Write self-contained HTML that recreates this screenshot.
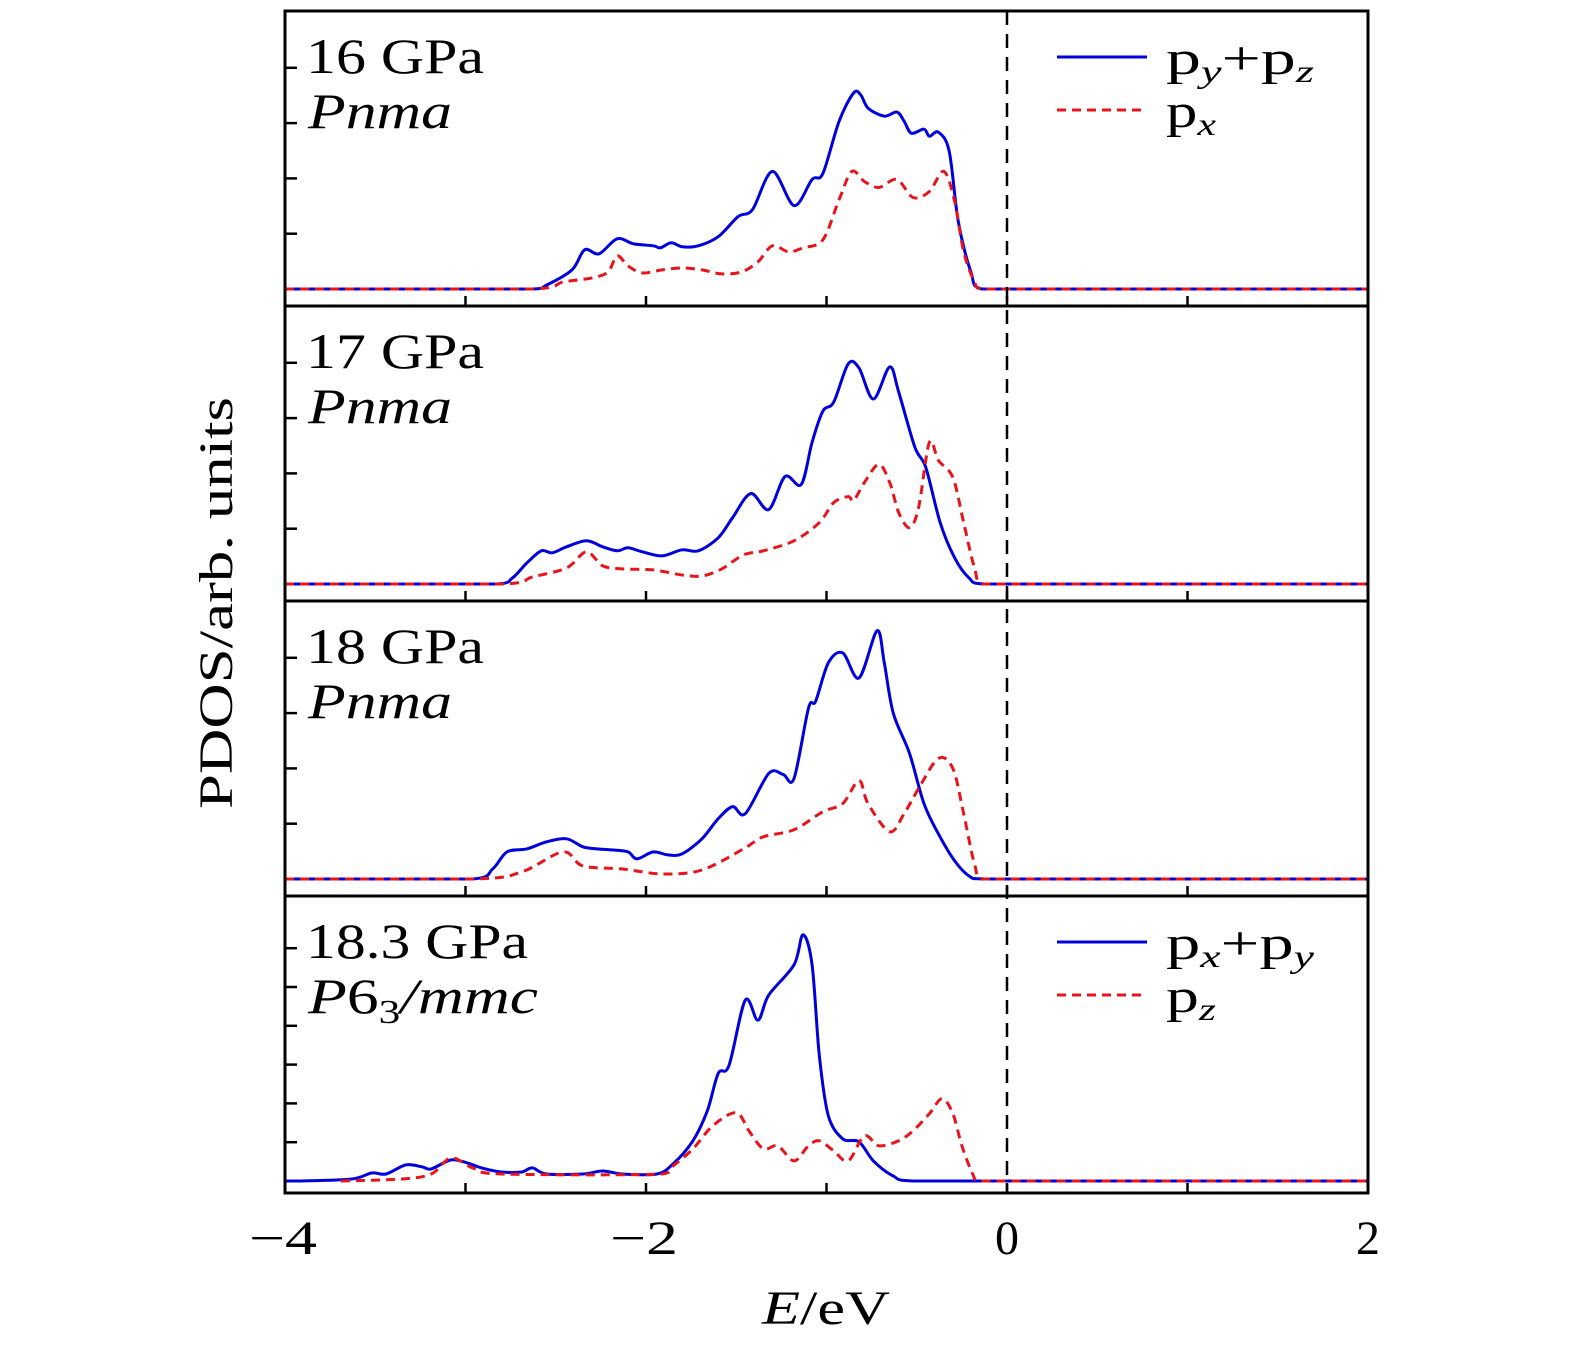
<!DOCTYPE html>
<html><head><meta charset="utf-8"><style>
html,body{margin:0;padding:0;background:#fff;}
svg{display:block;font-family:"Liberation Serif",serif;}
</style></head><body>
<svg id="chart" width="1575" height="1348" viewBox="0 0 1575 1348" xmlns="http://www.w3.org/2000/svg">
<g id="plots"></g>
<g id="frames"></g>
<text x="232" y="603" font-size="48" text-anchor="middle" textLength="412" lengthAdjust="spacingAndGlyphs" transform="rotate(-90 232 603)">PDOS/arb. units</text>
<text x="826" y="1324" font-size="48" text-anchor="middle" textLength="128" lengthAdjust="spacingAndGlyphs"><tspan font-style="italic">E</tspan>/eV</text>
</svg>
<script>
const NS="http://www.w3.org/2000/svg";
const xTicks=[-4,-3,-2,-1,0,1,2];
const xTickLabels=["−4","","−2","","0","","2"];
const panelLabels=["16 GPa","17 GPa","18 GPa","18.3 GPa"];
const panelPhases=["Pnma","Pnma","Pnma","P63/mmc"];
// energies (eV) and PDOS values (arb.) per panel
const p1BlueE=[-4,-2.63,-2.55,-2.41,-2.34,-2.26,-2.16,-2.07,-1.96,-1.92,-1.86,-1.80,-1.71,-1.60,-1.49,-1.41,-1.30,-1.18,-1.08,-1.02,-0.93,-0.85,-0.81,-0.77,-0.68,-0.61,-0.57,-0.53,-0.46,-0.43,-0.38,-0.32,-0.27,-0.20,-0.14,2];
const p1BlueV=[0,0,0.4,1.9,3.9,3.5,5.0,4.5,4.3,4.1,4.6,4.2,4.3,5.2,7.2,7.9,11.7,8.3,10.9,11.5,16.7,19.5,19.3,18.0,17.2,17.6,16.7,15.5,15.9,15.2,15.6,13.7,6.7,1.7,0,0];
const p1RedE=[-4,-2.63,-2.46,-2.30,-2.21,-2.16,-2.10,-2.02,-1.91,-1.80,-1.69,-1.58,-1.47,-1.38,-1.30,-1.21,-1.13,-1.02,-0.93,-0.86,-0.79,-0.71,-0.61,-0.52,-0.43,-0.35,-0.29,-0.24,-0.18,-0.14,2];
const p1RedV=[0,0,0.7,1.1,1.7,3.3,2.3,1.6,1.9,2.1,1.9,1.5,1.7,2.7,4.3,3.7,4.1,4.9,8.9,11.7,10.7,10.1,10.9,9.1,9.7,11.7,8.7,3.7,0.7,0,0];
const p2BlueE=[-4,-2.83,-2.74,-2.66,-2.58,-2.52,-2.44,-2.33,-2.24,-2.16,-2.10,-2.02,-1.91,-1.80,-1.71,-1.60,-1.52,-1.42,-1.32,-1.23,-1.14,-1.08,-1.02,-0.96,-0.88,-0.82,-0.74,-0.65,-0.60,-0.51,-0.45,-0.37,-0.29,-0.21,-0.13,2];
const p2BlueV=[0,0,0.6,2.1,3.3,3.1,3.7,4.3,3.7,3.3,3.6,3.2,2.8,3.4,3.3,4.6,6.6,9.0,7.4,10.7,9.9,14.1,17.2,18.1,21.9,21.5,18.4,21.6,19.1,13.6,11.6,6.1,2.6,0.6,0,0];
const p2RedE=[-4,-2.80,-2.63,-2.44,-2.33,-2.24,-2.13,-1.96,-1.80,-1.69,-1.58,-1.46,-1.35,-1.18,-1.04,-0.96,-0.88,-0.85,-0.79,-0.71,-0.65,-0.60,-0.54,-0.49,-0.43,-0.38,-0.30,-0.24,-0.18,-0.13,2];
const p2RedV=[0,0,0.7,1.6,3.2,1.8,1.5,1.4,0.9,0.8,1.5,2.9,3.3,4.3,6.1,8.1,8.7,8.3,10.1,11.9,10.1,7.1,5.6,7.6,14.1,12.3,10.6,6.1,1.6,0,0];
const p3BlueE=[-4,-2.96,-2.85,-2.77,-2.66,-2.55,-2.44,-2.35,-2.27,-2.19,-2.10,-2.05,-1.96,-1.88,-1.80,-1.69,-1.60,-1.52,-1.45,-1.32,-1.24,-1.18,-1.10,-1.06,-0.99,-0.91,-0.82,-0.72,-0.68,-0.63,-0.54,-0.46,-0.38,-0.29,-0.21,-0.13,2];
const p3BlueV=[0,0,1.0,2.7,3.0,3.7,4.0,3.2,3.0,2.9,2.7,2.0,2.7,2.4,2.5,4.0,6.0,7.2,6.5,10.5,10.4,10.0,17.0,17.7,21.5,22.5,20.0,24.7,21.5,16.5,12.5,7.5,4.5,1.8,0.3,0,0];
const p3RedE=[-4,-2.96,-2.69,-2.46,-2.35,-2.13,-1.91,-1.69,-1.46,-1.35,-1.18,-1.02,-0.91,-0.82,-0.77,-0.65,-0.57,-0.49,-0.38,-0.30,-0.24,-0.18,-0.13,2];
const p3RedV=[0,0,0.7,2.7,1.3,1.0,0.5,0.9,3.0,4.2,4.9,6.7,7.5,9.8,7.5,4.7,6.5,9.0,12.0,11.0,6.5,1.5,0,0];
const p4BlueE=[-4,-3.91,-3.63,-3.52,-3.44,-3.33,-3.24,-3.19,-3.08,-2.99,-2.91,-2.80,-2.69,-2.63,-2.55,-2.35,-2.24,-2.13,-1.94,-1.85,-1.74,-1.66,-1.60,-1.54,-1.45,-1.38,-1.32,-1.18,-1.13,-1.08,-1.04,-0.99,-0.91,-0.82,-0.74,-0.63,-0.52,2];
const p4BlueV=[0,0,0.2,0.8,0.7,1.6,1.4,1.2,2.1,1.8,1.3,0.9,0.9,1.3,0.7,0.7,1.0,0.7,0.7,1.7,4.0,7.0,10.7,11.5,18.0,16.0,18.5,21.5,24.5,21.5,12.5,6.5,4.2,3.9,2.0,0.5,0,0];
const p4RedE=[-3.69,-3.35,-3.19,-3.08,-2.96,-2.80,-1.91,-1.85,-1.74,-1.63,-1.50,-1.43,-1.35,-1.27,-1.18,-1.10,-1.04,-0.96,-0.88,-0.79,-0.71,-0.60,-0.52,-0.43,-0.36,-0.30,-0.25,-0.19,-0.15,2];
const p4RedV=[0,0.2,0.7,2.3,1.3,0.7,0.7,1.5,3.2,5.5,6.8,5.0,3.2,3.5,2.0,3.5,4.0,3.0,2.0,4.5,3.5,4.0,5.0,6.7,8.2,6.7,3.5,0.7,0,0];

const blueE=[p1BlueE,p2BlueE,p3BlueE,p4BlueE], blueV=[p1BlueV,p2BlueV,p3BlueV,p4BlueV];
const redE=[p1RedE,p2RedE,p3RedE,p4RedE], redV=[p1RedV,p2RedV,p3RedV,p4RedV];

const X0=285,X1=1368;
const tops=[11,306,601,896], bots=[306,601,896,1193];
const bases=[289,584,879,1181];
const ySteps=[55.3,55.3,55.3,38.8];
const yScale=10.05;
function xs(e){return X0+(e+4)/6*(X1-X0);}
function ys(p,v){return bases[p]-v*yScale;}
function mk(tag,attrs,parent){const el=document.createElementNS(NS,tag);for(const k in attrs)el.setAttribute(k,attrs[k]);parent.appendChild(el);return el;}
function pathFor(p,E,V){
  const pts=E.map((e,i)=>[xs(e),ys(p,V[i])]);
  let d="M"+pts[0][0].toFixed(1)+","+pts[0][1].toFixed(1);
  for(let i=0;i<pts.length-1;i++){
    const p0=pts[Math.max(0,i-1)],p1=pts[i],p2=pts[i+1],p3=pts[Math.min(pts.length-1,i+2)];
    const t=0.16;
    let c1x=p1[0]+(p2[0]-p0[0])*t,c1y=p1[1]+(p2[1]-p0[1])*t;
    let c2x=p2[0]-(p3[0]-p1[0])*t,c2y=p2[1]-(p3[1]-p1[1])*t;
    c1x=Math.min(Math.max(c1x,p1[0]),p2[0]);c2x=Math.min(Math.max(c2x,p1[0]),p2[0]);
    const lo=bases[p]; c1y=Math.min(c1y,lo); c2y=Math.min(c2y,lo);
    d+=" C"+c1x.toFixed(1)+","+c1y.toFixed(1)+" "+c2x.toFixed(1)+","+c2y.toFixed(1)+" "+p2[0].toFixed(1)+","+p2[1].toFixed(1);
  }
  return d;
}
const plots=document.getElementById('plots'), frames=document.getElementById('frames');
const labelW=[178,178,178,222], phaseW=[144,144,144,230];
for(let p=0;p<4;p++){
  const g=mk('g',{},plots);
  
  
  const b=mk('path',{d:pathFor(p,blueE[p],blueV[p]),fill:'none',stroke:'#0000dd','stroke-width':3},g);
  
  
  const r=mk('path',{d:pathFor(p,redE[p],redV[p]),fill:'none',stroke:'#e8141b','stroke-width':3,'stroke-dasharray':'9,6'},g);
  
  
  const fr=mk('rect',{x:X0,y:tops[p],width:X1-X0,height:bots[p]-tops[p],fill:'none',stroke:'#000','stroke-width':3},frames);
  
  
  xTicks.forEach(t=>{
    const tk=mk('line',{x1:xs(t),x2:xs(t),y1:bots[p],y2:bots[p]-10,stroke:'#000','stroke-width':2.5},frames);
    
    
  });
  for(let k=1;;k++){
    const y=bases[p]-k*ySteps[p];
    if(y<tops[p]+20)break;
    const tk=mk('line',{x1:X0,x2:X0+12,y1:y,y2:y,stroke:'#000','stroke-width':2.5},frames);
    
    
  }
  const lt=mk('text',{x:306,y:tops[p]+62,'font-size':50,textLength:labelW[p],lengthAdjust:'spacingAndGlyphs'},frames);
  lt.textContent=panelLabels[p];
  
  
  const ph=mk('text',{x:308,y:tops[p]+117,'font-size':50,'font-style':'italic',textLength:phaseW[p],lengthAdjust:'spacingAndGlyphs'},frames);
  if(panelPhases[p]==="P63/mmc"){ph.innerHTML='P<tspan font-style="normal">6</tspan><tspan font-style="normal" font-size="34" dy="10">3</tspan><tspan dy="-10">/mmc</tspan>';}
  else ph.textContent=panelPhases[p];
  
  
}
const zl=mk('line',{x1:xs(0),x2:xs(0),y1:11,y2:1193,stroke:'#000','stroke-width':2.5,'stroke-dasharray':'14,9'},frames);


xTicks.forEach((t,i)=>{
  if(!xTickLabels[i])return;
  const tl=mk('text',{x:xs(t)-(t<0?2:0),y:1254,'font-size':48,'text-anchor':'middle'},frames);
  if(t<0){tl.setAttribute('textLength',68);tl.setAttribute('lengthAdjust','spacingAndGlyphs');}
  tl.textContent=xTickLabels[i];
  
  
});
function legend(top,l1,l2,name){
  const g=mk('g',{},frames);
  
  
  mk('line',{x1:1057,x2:1147,y1:top+46,y2:top+46,stroke:'#0000dd','stroke-width':3},g);
  mk('line',{x1:1057,x2:1147,y1:top+99,y2:top+99,stroke:'#e8141b','stroke-width':3,'stroke-dasharray':'9,6'},g);
  const t1=mk('text',{x:1166,y:top+63,'font-size':48,textLength:148,lengthAdjust:'spacingAndGlyphs'},g); t1.innerHTML=l1;
  const t2=mk('text',{x:1166,y:top+116,'font-size':48,textLength:50,lengthAdjust:'spacingAndGlyphs'},g); t2.innerHTML=l2;
}
legend(11,'p<tspan font-style="italic" font-size="32" dy="8">y</tspan><tspan dy="-8">+p</tspan><tspan font-style="italic" font-size="32" dy="8">z</tspan>','p<tspan font-style="italic" font-size="32" dy="8">x</tspan>','legend-top');
legend(896,'p<tspan font-style="italic" font-size="32" dy="8">x</tspan><tspan dy="-8">+p</tspan><tspan font-style="italic" font-size="32" dy="8">y</tspan>','p<tspan font-style="italic" font-size="32" dy="8">z</tspan>','legend-bottom');
</script>
</body></html>
